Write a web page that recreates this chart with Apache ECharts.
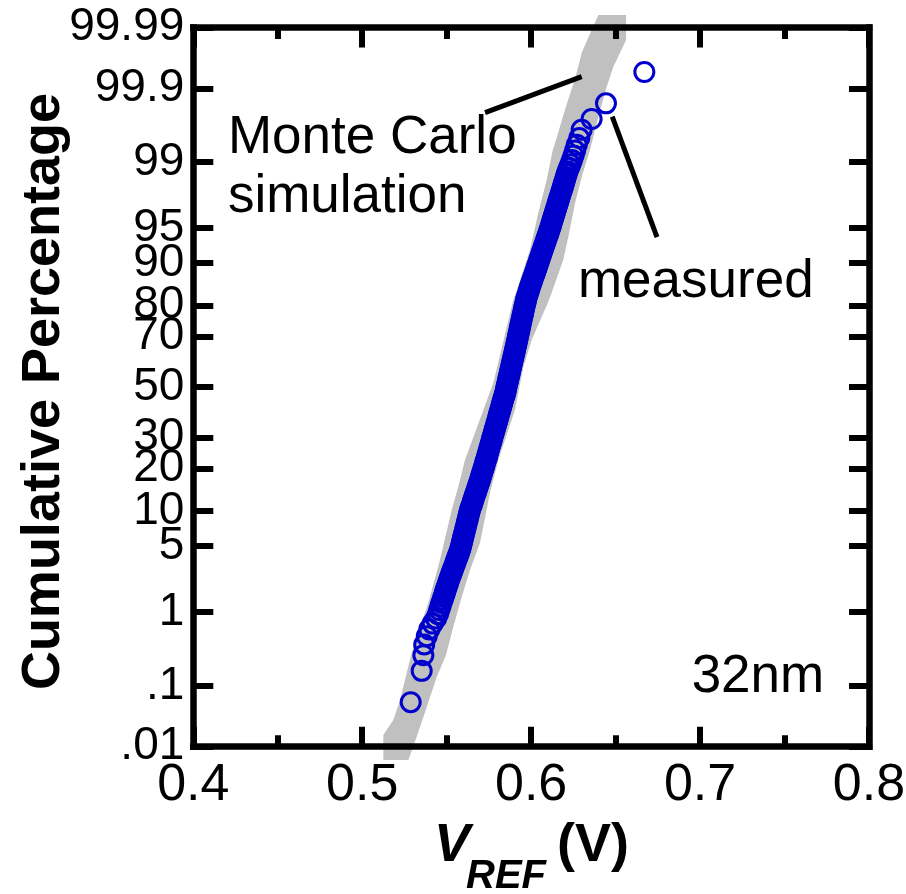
<!DOCTYPE html>
<html><head><meta charset="utf-8">
<script src="https://cdn.jsdelivr.net/npm/echarts@6/dist/echarts.min.js"></script>
<style>html,body{margin:0;padding:0;background:#fff}#c{width:906px;height:894px}</style>
</head><body><div id="c"></div>
<script>
// ---------------- data ----------------
const xTickLabels = ['0.4', '0.5', '0.6', '0.7', '0.8'];
const X_MIN = 0.4, X_MAX = 0.8, X_STEP = 0.1;
const yTickPct = [0.01, 0.1, 1, 5, 10, 20, 30, 50, 70, 80, 90, 95, 99, 99.9, 99.99];
const yTickLabels = ['.01', '.1', '1', '5', '10', '20', '30', '50', '70', '80', '90', '95', '99', '99.9', '99.99'];

// measured VREF samples: cumulative percentage and VREF (V)
const measuredPct = [
  0.056, 0.167, 0.278, 0.389, 0.5, 0.611, 0.722, 0.833, 0.944,
  1.056, 1.167, 1.278, 1.389, 1.5, 1.611, 1.722, 1.833, 1.944,
  2.1, 2.25, 2.4, 2.55, 2.7, 2.85, 3.0, 3.2, 3.4, 3.6, 3.8, 4.0, 4.25, 4.5, 4.75,
  5.0, 5.3, 5.6, 5.9, 6.2, 6.5, 6.9, 7.3, 7.7, 8.1, 8.5, 9.0, 9.5, 10, 10.5,
  11, 11.5, 12, 12.6, 13.2, 13.8, 14.4, 15, 15.7, 16.4, 17.1, 17.8, 18.5, 19.2,
  20, 20.8, 21.6, 22.4, 23.2, 24,
  25, 26, 27, 28, 29, 30, 31, 32, 33, 34, 35, 36, 37, 38, 39, 40, 41, 42, 43, 44, 45, 46, 47, 48, 49,
  50, 51, 52, 53, 54, 55, 56, 57, 58, 59, 60, 61, 62, 63, 64, 65, 66, 67, 68, 69, 70, 71, 72, 73, 74, 75,
  76, 76.8, 77.6, 78.4, 79.2, 80, 80.8, 81.5, 82.2, 82.9, 83.6, 84.3, 85, 85.6, 86.2, 86.8, 87.4, 88,
  88.5, 89, 89.5, 90, 90.5, 91, 91.5, 91.9, 92.3, 92.7, 93.1, 93.5, 93.8, 94.1, 94.4, 94.7, 95,
  95.25, 95.5, 95.75, 96, 96.2, 96.4, 96.6, 96.8, 97, 97.15, 97.3, 97.45, 97.6, 97.75, 97.9,
  98.056, 98.167, 98.278, 98.389, 98.5, 98.611, 98.722, 98.833, 98.944,
  99.056, 99.167, 99.278, 99.389, 99.5, 99.611, 99.722, 99.833, 99.944
];
const measuredV = [
  0.5287, 0.5352, 0.5362, 0.5367, 0.5382, 0.5397, 0.5417, 0.5437, 0.5449,
  0.5456, 0.5463, 0.5469, 0.5476, 0.5481, 0.5487, 0.5491, 0.5496, 0.5501,
  0.5507, 0.5512, 0.5518, 0.5523, 0.5528, 0.5533, 0.5538, 0.5544, 0.5550, 0.5555, 0.5560, 0.5565, 0.5571, 0.5577, 0.5581,
  0.5585, 0.5589, 0.5593, 0.5596, 0.5600, 0.5603, 0.5608, 0.5612, 0.5616, 0.5620, 0.5624, 0.5628, 0.5632, 0.5637, 0.5641,
  0.5647, 0.5652, 0.5656, 0.5662, 0.5667, 0.5673, 0.5678, 0.5683, 0.5688, 0.5694, 0.5699, 0.5704, 0.5708, 0.5713,
  0.5718, 0.5723, 0.5727, 0.5732, 0.5737, 0.5741,
  0.5746, 0.5751, 0.5756, 0.5761, 0.5766, 0.5770, 0.5775, 0.5780, 0.5784, 0.5789, 0.5793, 0.5798, 0.5802, 0.5806, 0.5810,
  0.5815, 0.5819, 0.5823, 0.5827, 0.5831, 0.5835, 0.5840, 0.5844, 0.5848, 0.5851,
  0.5854, 0.5857, 0.5861, 0.5864, 0.5867, 0.5871, 0.5874, 0.5877, 0.5881, 0.5884, 0.5887, 0.5891, 0.5894, 0.5898, 0.5901,
  0.5905, 0.5908, 0.5912, 0.5915, 0.5919, 0.5922, 0.5926, 0.5930, 0.5933, 0.5937, 0.5941,
  0.5945, 0.5948, 0.5952, 0.5955, 0.5958, 0.5962, 0.5966, 0.5969, 0.5973, 0.5978, 0.5983, 0.5988, 0.5993, 0.5999, 0.6004, 0.6009, 0.6015, 0.6021,
  0.6026, 0.6031, 0.6036, 0.6042, 0.6047, 0.6053, 0.6059, 0.6064, 0.6070, 0.6075, 0.6081, 0.6087, 0.6092, 0.6097, 0.6102, 0.6107, 0.6113,
  0.6117, 0.6121, 0.6126, 0.6131, 0.6135, 0.6140, 0.6144, 0.6149, 0.6154, 0.6158, 0.6162, 0.6166, 0.6171, 0.6176, 0.6181,
  0.6187, 0.6191, 0.6195, 0.6200, 0.6205, 0.6210, 0.6216, 0.6224, 0.6233,
  0.6242, 0.6251, 0.6260, 0.6270, 0.6285, 0.6299, 0.6358, 0.6443, 0.6670
];

// Monte Carlo simulation envelope (left edge top->bottom, right edge bottom->top)
const mcLeftPct = [99.99407, 99.9835, 99.9725, 99.9377, 99.792, 99.469, 99.29, 98.39, 96.41, 92.19, 84.23, 81.62,
  51.7, 22.53, 16.83, 10.19, 3.69, 1.278, 0.3594, 0.1553, 0.0606, 0.0288, 0.016, 0.00574];
const mcLeftV = [0.6398, 0.6332, 0.6299, 0.6266, 0.6200, 0.6147, 0.6128, 0.6092, 0.6042, 0.5993, 0.5915, 0.5894,
  0.5776, 0.5608, 0.5579, 0.5530, 0.5460, 0.5391, 0.5302, 0.5263, 0.5224, 0.5184, 0.5125, 0.5125];
const mcRightPct = [0.00574, 0.0148, 0.0468, 0.1355, 0.2795, 0.6, 1.497, 2.925, 5.337, 13.68, 22.53, 40.64, 58.24,
  68.69, 81.62, 90.57, 93.97, 97.15, 98.51, 99.29, 99.516, 99.792, 99.9045, 99.9535, 99.9835, 99.99407];
const mcRightV = [0.5273, 0.5322, 0.5382, 0.5441, 0.5496, 0.5534, 0.5589, 0.5638, 0.5697, 0.5756, 0.5806, 0.5904, 0.5954,
  0.6003, 0.6106, 0.6190, 0.6220, 0.6260, 0.6299, 0.6348, 0.6368, 0.6408, 0.6447, 0.6486, 0.6562, 0.6562];

// annotations (anchors in data units: [VREF, percentage])
const mcLabelLines = ['Monte Carlo', 'simulation'];
const mcLabelAnchors = [[0.4205, 99.5], [0.4205, 97.5]];
const mcPointer = [[0.5727, 99.773], [0.6299, 99.9337]];
const measLabel = 'measured';
const measLabelAnchor = [0.6277, 86.15];
const measPointer = [[0.6480, 99.742], [0.6745, 93.97]];
const nodeLabel = '32nm';
const nodeLabelAnchor = [0.6950, 0.134];

// ---------------- probit scale ----------------
function probit(pct) {
  const p = pct / 100;
  const a = [-3.969683028665376e+01, 2.209460984245205e+02, -2.759285104469687e+02, 1.383577518672690e+02, -3.066479806614716e+01, 2.506628277459239e+00];
  const b = [-5.447609879822406e+01, 1.615858368580409e+02, -1.556989798598866e+02, 6.680131188771972e+01, -1.328068155288572e+01];
  const c = [-7.784894002430293e-03, -3.223964580411365e-01, -2.400758277161838e+00, -2.549671010086143e+00, 4.374664141464968e+00, 2.938163982698783e+00];
  const d = [7.784695709041462e-03, 3.224671290700398e-01, 2.445134137142996e+00, 3.754408661907416e+00];
  const plow = 0.02425, phigh = 1 - plow;
  let q, r;
  if (p < plow) {
    q = Math.sqrt(-2 * Math.log(p));
    return (((((c[0]*q+c[1])*q+c[2])*q+c[3])*q+c[4])*q+c[5]) / ((((d[0]*q+d[1])*q+d[2])*q+d[3])*q+1);
  } else if (p <= phigh) {
    q = p - 0.5; r = q * q;
    return (((((a[0]*r+a[1])*r+a[2])*r+a[3])*r+a[4])*r+a[5])*q / (((((b[0]*r+b[1])*r+b[2])*r+b[3])*r+b[4])*r+1);
  } else {
    q = Math.sqrt(-2 * Math.log(1 - p));
    return -(((((c[0]*q+c[1])*q+c[2])*q+c[3])*q+c[4])*q+c[5]) / ((((d[0]*q+d[1])*q+d[2])*q+d[3])*q+1);
  }
}

const zTicks = yTickPct.map(probit);
const Y_MIN = probit(yTickPct[0]), Y_MAX = probit(yTickPct[yTickPct.length - 1]);
const FONT = '"Liberation Sans", Arial, Helvetica, sans-serif';
const BLUE = '#0000CC', GRAY = '#C0C0C0';

function yLabel(v) {
  let best = 0, bd = Infinity;
  zTicks.forEach((z, i) => { const dd = Math.abs(z - v); if (dd < bd) { bd = dd; best = i; } });
  return yTickLabels[best];
}

const lineStyle = { color: '#000', width: 6.5, cap: 'square' };
const tickStyle = { color: '#000', width: 6 };

const xAxisBase = {
  type: 'value', min: X_MIN, max: X_MAX, interval: X_STEP, z: 5,
  axisLine: { show: true, onZero: false, lineStyle },
  axisTick: { show: true, inside: true, length: 20, lineStyle: tickStyle },
  minorTick: { show: true, splitNumber: 2, length: 11.5, lineStyle: tickStyle },
  splitLine: { show: false }, minorSplitLine: { show: false }
};
const yAxisBase = {
  type: 'value', min: Y_MIN, max: Y_MAX, z: 5,
  axisLine: { show: true, onZero: false, lineStyle },
  axisTick: { show: true, inside: true, length: 20, lineStyle: tickStyle, customValues: zTicks },
  splitLine: { show: false }
};

const chart = echarts.init(document.getElementById('c'), null, { renderer: 'canvas' });
const option = {
  animation: false,
  backgroundColor: '#fff',
  grid: { left: 193.3, right: 37, top: 27.5, bottom: 147.3, containLabel: false, outerBoundsMode: 'none' },
  xAxis: [
    Object.assign({}, xAxisBase, {
      position: 'bottom',
      axisLabel: { show: true, fontSize: 52, color: '#000', fontFamily: FONT, margin: 13,
        showMinLabel: true, showMaxLabel: true, hideOverlap: false,
        formatter: (v, i) => xTickLabels[i] }
    }),
    Object.assign({}, xAxisBase, { position: 'top', axisLabel: { show: false } })
  ],
  yAxis: [
    Object.assign({}, yAxisBase, {
      position: 'left',
      axisLabel: { show: true, customValues: zTicks, fontSize: 46, color: '#000', fontFamily: FONT, margin: 9,
        showMinLabel: true, showMaxLabel: true, hideOverlap: false, formatter: yLabel }
    }),
    Object.assign({}, yAxisBase, { position: 'right', axisLabel: { show: false } })
  ],
  series: [
    {
      type: 'custom', name: 'Monte Carlo simulation', z: 1, silent: true, clip: false,
      data: [[X_MIN, 0]],
      renderItem: function (params, api) {
        const pts = [];
        mcLeftPct.forEach((p, i) => pts.push(api.coord([mcLeftV[i], probit(p)])));
        mcRightPct.forEach((p, i) => pts.push(api.coord([mcRightV[i], probit(p)])));
        return { type: 'polygon', shape: { points: pts }, style: { fill: GRAY, stroke: null } };
      }
    },
    {
      type: 'scatter', name: 'measured', z: 2, silent: true,
      symbol: 'circle', symbolSize: 19,
      itemStyle: { color: 'rgba(0,0,0,0)', borderColor: BLUE, borderWidth: 3, opacity: 1 },
      data: measuredPct.map((p, i) => [measuredV[i], probit(p)])
    }
  ]
};
chart.setOption(option);

const toPx = (a) => chart.convertToPixel({ seriesIndex: 1 }, [a[0], probit(a[1])]);
const annFont = '53px ' + FONT;
const g = [];
mcLabelLines.forEach((t, i) => {
  const p = toPx(mcLabelAnchors[i]);
  g.push({ type: 'text', z: 10, x: p[0], y: p[1], style: { text: t, font: annFont, fill: '#000', align: 'left', verticalAlign: 'middle', textAlign: 'left', textVerticalAlign: 'middle' } });
});
[mcPointer, measPointer].forEach(seg => {
  const a = toPx(seg[0]), b = toPx(seg[1]);
  g.push({ type: 'line', z: 10, shape: { x1: a[0], y1: a[1], x2: b[0], y2: b[1] }, style: { stroke: '#000', lineWidth: 5 } });
});
{
  const p = toPx(measLabelAnchor);
  g.push({ type: 'text', z: 10, x: p[0], y: p[1], style: { text: measLabel, font: annFont, fill: '#000', align: 'left', verticalAlign: 'middle', textAlign: 'left', textVerticalAlign: 'middle' } });
  const q = toPx(nodeLabelAnchor);
  g.push({ type: 'text', z: 10, x: q[0], y: q[1], style: { text: nodeLabel, font: annFont, fill: '#000', align: 'left', verticalAlign: 'middle', textAlign: 'left', textVerticalAlign: 'middle' } });
}
// axis titles
g.push({ type: 'text', z: 10, x: 44, y: 391.5, rotation: Math.PI / 2,
  style: { text: 'Cumulative Percentage', font: 'bold 54px ' + FONT, fill: '#000', align: 'center', verticalAlign: 'middle', textAlign: 'center', textVerticalAlign: 'middle' } });
g.push({ type: 'text', z: 10, x: 434, y: 846,
  style: { text: 'V', font: 'italic bold 54px ' + FONT, fill: '#000', align: 'left', verticalAlign: 'middle', textAlign: 'left', textVerticalAlign: 'middle' } });
g.push({ type: 'text', z: 10, x: 466, y: 877,
  style: { text: 'REF', font: 'italic bold 40px ' + FONT, fill: '#000', align: 'left', verticalAlign: 'middle', textAlign: 'left', textVerticalAlign: 'middle' } });
g.push({ type: 'text', z: 10, x: 557, y: 846,
  style: { text: '(V)', font: 'bold 54px ' + FONT, fill: '#000', align: 'left', verticalAlign: 'middle', textAlign: 'left', textVerticalAlign: 'middle' } });
chart.setOption({ graphic: g });
</script>
</body></html>
